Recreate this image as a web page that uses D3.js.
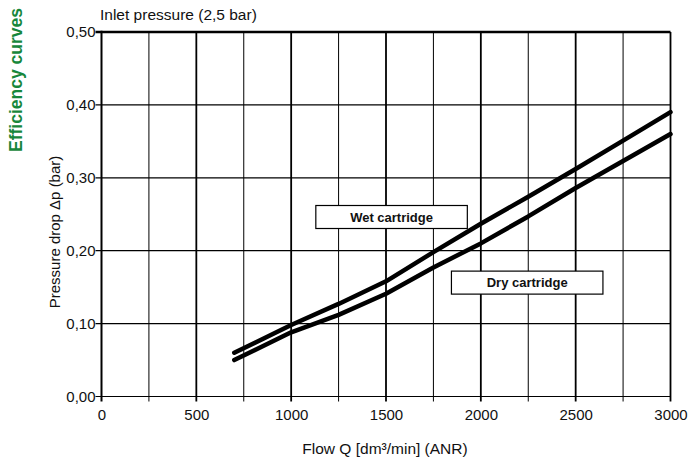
<!DOCTYPE html>
<html>
<head>
<meta charset="utf-8">
<script src="https://cdn.jsdelivr.net/npm/d3@7"></script>
<style>
  html, body { margin: 0; padding: 0; background: #fff; }
  svg { display: block; font-family: "Liberation Sans", Arial, sans-serif; }
</style>
</head>
<body>
<svg id="chart" width="688" height="459"></svg>
<script>
// Flow in dm³/min (ANR) and pressure drop in bar
const flow = [700, 1000, 1250, 1500, 1750, 2000, 2250, 2500, 2750, 3000];
const wetCartridge = [0.060, 0.098, 0.127, 0.158, 0.198, 0.237, 0.274, 0.312, 0.351, 0.390];
const dryCartridge = [0.050, 0.088, 0.112, 0.141, 0.177, 0.210, 0.247, 0.286, 0.323, 0.360];
const xTickValues = [0, 500, 1000, 1500, 2000, 2500, 3000];
const yTickValues = [0, 0.1, 0.2, 0.3, 0.4, 0.5];
const seriesLabels = ["Wet cartridge", "Dry cartridge"];

const svg = d3.select("#chart");
const x = d3.scaleLinear().domain([0, 3000]).range([101.5, 670.5]);
const y = d3.scaleLinear().domain([0, 0.5]).range([396.5, 32]);
const fmtY = v => d3.format(".2f")(v).replace(".", ",");
const fmtX = d3.format("d");

// vertical grid every 250, heavier on the 500 marks
const minorX = d3.range(250, 3001, 250);
svg.append("g").selectAll("line").data(minorX).join("line")
  .attr("x1", d => x(d)).attr("x2", d => x(d))
  .attr("y1", y(0) + 5).attr("y2", y(0.5))
  .attr("stroke", "#000")
  .attr("stroke-width", d => d % 500 === 0 ? 1.8 : 1);

// horizontal grid
svg.append("g").selectAll("line").data(yTickValues).join("line")
  .attr("x1", x(0) - 6).attr("x2", x(3000))
  .attr("y1", d => y(d)).attr("y2", d => y(d))
  .attr("stroke", "#000")
  .attr("stroke-width", d => d === 0.5 ? 2.6 : 1.2);

// left axis line
svg.append("line")
  .attr("x1", x(0)).attr("x2", x(0))
  .attr("y1", y(0) + 5).attr("y2", y(0.5) - 1.3)
  .attr("stroke", "#000").attr("stroke-width", 2);

// tick labels through D3 axes (domain paths hidden)
const xAxis = svg.append("g")
  .attr("transform", `translate(0,${y(0)})`)
  .call(d3.axisBottom(x).tickValues(xTickValues).tickFormat(fmtX).tickSize(0).tickPadding(13));
xAxis.select(".domain").remove();
xAxis.selectAll("text").attr("font-size", 15).attr("fill", "#111")
  .attr("font-family", "Liberation Sans, Arial, sans-serif");

const yAxis = svg.append("g")
  .attr("transform", `translate(${x(0)},0)`)
  .call(d3.axisLeft(y).tickValues(yTickValues).tickFormat(fmtY).tickSize(0).tickPadding(6));
yAxis.select(".domain").remove();
yAxis.selectAll("text").attr("font-size", 15).attr("fill", "#111")
  .attr("font-family", "Liberation Sans, Arial, sans-serif");

// curves
const line = d3.line().x(d => x(d[0])).y(d => y(d[1]));
[wetCartridge, dryCartridge].forEach(vals => {
  svg.append("path")
    .datum(flow.map((f, i) => [f, vals[i]]))
    .attr("d", line)
    .attr("fill", "none")
    .attr("stroke", "#000")
    .attr("stroke-width", 4.5)
    .attr("stroke-linecap", "round")
    .attr("stroke-linejoin", "round");
});

// boxed series labels
const boxes = [
  { text: seriesLabels[0], fx: 1130, fy: 0.262, w: 151.5, h: 23 },
  { text: seriesLabels[1], fx: 1845, fy: 0.172, w: 151.5, h: 23 }
];
boxes.forEach(b => {
  const g = svg.append("g");
  g.append("rect")
    .attr("x", x(b.fx)).attr("y", y(b.fy))
    .attr("width", b.w).attr("height", b.h)
    .attr("fill", "#fff").attr("stroke", "#000").attr("stroke-width", 1.2);
  g.append("text")
    .attr("x", x(b.fx) + b.w / 2).attr("y", y(b.fy) + b.h / 2 + 4.6)
    .attr("text-anchor", "middle")
    .attr("font-size", 13).attr("font-weight", "bold").attr("fill", "#111")
    .text(b.text);
});

// titles
svg.append("text")
  .attr("x", 100).attr("y", 20)
  .attr("font-size", 15.5).attr("fill", "#111")
  .text("Inlet pressure (2,5 bar)");

svg.append("text")
  .attr("transform", "translate(22,80) rotate(-90)")
  .attr("text-anchor", "middle")
  .attr("font-size", 17.5).attr("font-weight", "bold").attr("fill", "#17873b")
  .text("Efficiency curves");

svg.append("text")
  .attr("transform", "translate(60,232) rotate(-90)")
  .attr("text-anchor", "middle")
  .attr("font-size", 15).attr("fill", "#111")
  .text("Pressure drop Δp (bar)");

svg.append("text")
  .attr("x", 385).attr("y", 454)
  .attr("text-anchor", "middle")
  .attr("font-size", 15.5).attr("fill", "#111")
  .text("Flow Q [dm³/min] (ANR)");
</script>
</body>
</html>
